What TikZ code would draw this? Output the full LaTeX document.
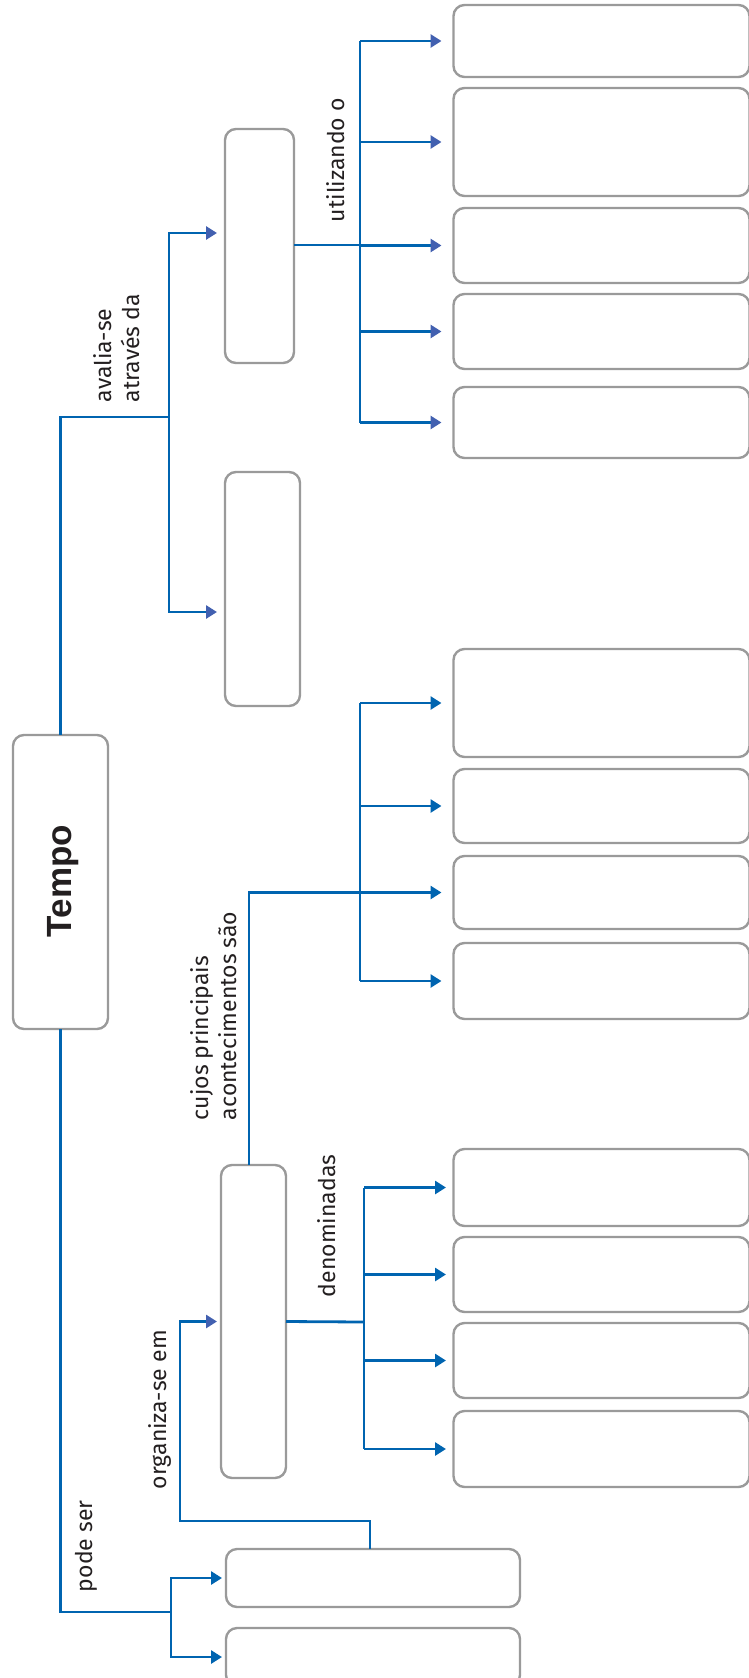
\documentclass[tikz,border=0pt]{standalone}
\usepackage{fontspec}
\setmainfont{Fira Sans}
\newfontfamily\headfont{Liberation Sans}
\usepackage{tikz}
\usetikzlibrary{arrows.meta,calc}
\definecolor{linkblue}{RGB}{0,100,176}
\definecolor{headblue}{RGB}{66,96,176}
\definecolor{boxgray}{RGB}{154,154,154}
\definecolor{ink}{RGB}{35,31,32}

\begin{document}
\begin{tikzpicture}[
  x=1pt, y=-1pt,
  every node/.style={inner sep=0pt, outer sep=0pt},
  slot/.style={draw=boxgray, line width=2.4pt, rounded corners=11pt, fill=white},
  wide/.style={slot, minimum width=296pt},
  link/.style={draw=linkblue, line width=2.8pt},
  arr/.style={link, -{Triangle[length=11pt, width=13pt]}, shorten >=#1},
  arr/.default=7.5pt,
  arrp/.style={arr=#1, -{Triangle[length=11pt, width=13pt, color=headblue]}},
  arrp/.default=12pt,
  lbl/.style={rotate=90, anchor=west, align=left, text=ink, font=\fontsize{23}{28}\selectfont}
]
\useasboundingbox (0,0) rectangle (749,1678);
\clip (0,0) rectangle (749,1678);

\node[slot, minimum width=95pt, minimum height=294pt] (tempo) at (60.5,882) {};
\node[rotate=90, text=ink, font=\headfont\bfseries\fontsize{35}{35}\selectfont] (tempo-t) at (63.5,881) {Tempo};

\node[slot, minimum width=69pt, minimum height=234pt] (ava1) at (259.5,246) {};
\node[slot, minimum width=75pt, minimum height=234pt] (ava2) at (262.5,589) {};
\node[slot, minimum width=65pt, minimum height=313pt] (org) at (253.5,1321.5) {};
\node[slot, minimum width=294pt, minimum height=58pt] (tip1) at (373,1578) {};
\node[slot, minimum width=294pt, minimum height=58pt] (tip2) at (373,1657) {};

\foreach \n/\y/\h in {u1/41/72, u2/142/108, u3/245.5/75, u4/331.5/75, u5/422.5/71,
                      c1/703/108, c2/806/74, c3/892.5/73, c4/981/76,
                      d1/1187.5/77, d2/1274.5/75, d3/1360.5/75, d4/1449/76}
  \node[wide, minimum height=\h pt] (\n) at (601.5,\y) {};

\node[lbl] (l-pod) at (86,1592) {pode ser};
\node[lbl] (l-org) at (160,1489) {organiza-se em};
\node[lbl] (l-den) at (326.5,1297) {denominadas};
\node[lbl] (l-cuj) at (213.5,1120) {cujos principais\\acontecimentos são};
\node[lbl] (l-ava) at (116.5,402) {avalia-se\\através da};
\node[lbl] (l-uti) at (335.5,222) {utilizando o};

\coordinate (j-ava) at (169,417);
\coordinate (j-uti) at (360,245);
\coordinate (j-acon) at (360,892.5);
\coordinate (j-den) at (364,1322);
\coordinate (j-org) at (180,1521);
\coordinate (j-pod) at (171,1612);

\draw[link] (tempo.north) |- (j-ava);
\draw[arrp=8pt] (j-ava) |- (ava1.west |- 0,233);
\draw[arrp=8pt] (j-ava) |- (ava2.west |- 0,612);

\draw[link] (ava1.east |- j-uti) -- (j-uti);
\draw[link] (j-uti |- u1) -- (j-uti |- u5);
\foreach \b in {u1,u2,u3,u4,u5}
  \draw[arrp] (j-uti |- \b.west) -- (\b.west);

\draw[arr=12pt] ([xshift=-4.5pt]org.north) |- (c3.west);
\draw[link] (j-acon |- c1) -- (j-acon |- c4);
\foreach \b in {c1,c2,c4}
  \draw[arr=12pt] (j-acon |- \b.west) -- (\b.west);

\draw[link] (org.east) -- (j-den);
\draw[link] (j-den |- d1) -- (j-den |- d4);
\foreach \b in {d1,d2,d3,d4}
  \draw[arr] (j-den |- \b.west) -- (\b.west);

\draw[arrp=4pt] ([xshift=-3pt]tip1.north) |- (j-org) |- (org.west);

\draw[link] (tempo.south) |- (j-pod);
\draw[arr=4pt] (j-pod) |- (tip1.west);
\draw[arr=4pt] (j-pod) |- (tip2.west);
\end{tikzpicture}
\end{document}
